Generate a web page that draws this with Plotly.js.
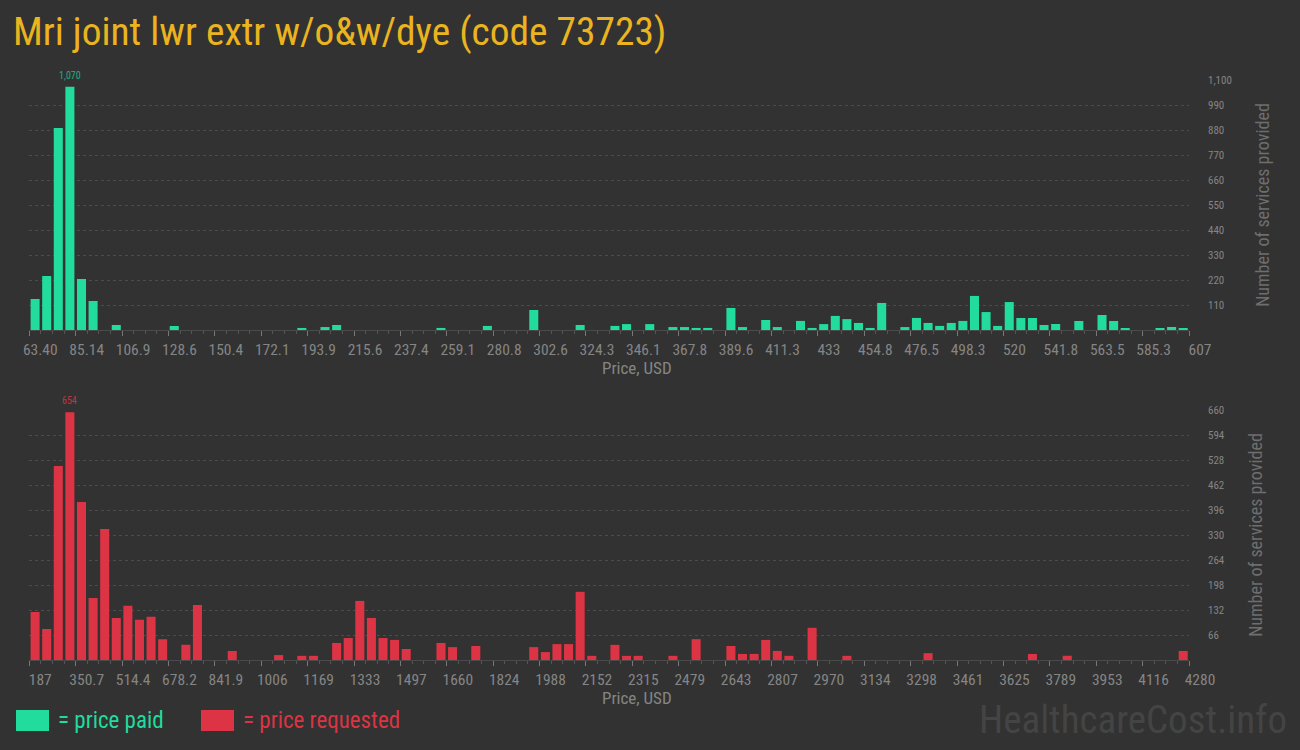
<!DOCTYPE html>
<html>
<head>
<meta charset="utf-8">
<script src="https://cdn.plot.ly/plotly-3.0.1.min.js"></script>
<style>
  html, body { margin: 0; padding: 0; background: #323232; }
  #chart { width: 1300px; height: 750px; }
</style>
</head>
<body>
<div id="chart"></div>
<script>
// ---- data ----
const chartTitle = "Mri joint lwr extr w/o&w/dye (code 73723)";

const paidMin = 63.40;
const paidMax = 607;
const paidTickLabels = ["63.40","85.14","106.9","128.6","150.4","172.1","193.9","215.6","237.4","259.1","280.8","302.6","324.3","346.1","367.8","389.6","411.3","433","454.8","476.5","498.3","520","541.8","563.5","585.3","607"];
const paidCounts = [
  136,238,889,1070,224,128,0,22,0,0,
  0,0,18,0,0,0,0,0,0,0,
  0,0,0,9,0,13,22,0,0,0,
  0,0,0,0,0,9,0,0,0,18,
  0,0,0,88,0,0,0,22,0,0,
  18,26,0,26,0,13,13,9,9,0,
  97,13,0,44,13,0,40,9,26,62,
  48,31,9,119,0,13,53,31,18,31,
  40,150,79,18,123,53,53,22,26,0,
  40,0,66,40,9,0,0,9,13,9
];
const paidYTicks = [110,220,330,440,550,660,770,880,990,1100];

const reqMin = 187;
const reqMax = 4280;
const reqTickLabels = ["187","350.7","514.4","678.2","841.9","1006","1169","1333","1497","1660","1824","1988","2152","2315","2479","2643","2807","2970","3134","3298","3461","3625","3789","3953","4116","4280"];
const reqCounts = [
  127,82,512,654,417,164,346,111,143,106,
  114,55,0,40,145,0,0,24,0,0,
  0,13,0,11,11,0,45,58,156,111,
  58,53,29,0,0,45,34,0,37,0,
  0,0,0,34,21,42,42,180,11,0,
  40,11,11,0,0,11,0,55,0,0,
  37,16,16,53,24,11,0,85,0,0,
  11,0,0,0,0,0,0,18,0,0,
  0,0,0,0,0,0,16,0,0,11,
  0,0,0,0,0,0,0,0,0,24
];
const reqYTicks = [66,132,198,264,330,396,462,528,594,660];

const legendLabels = ["= price paid", "= price requested"];
const yTitle = "Number of services provided";
const xTitle = "Price, USD";
const watermark = "HealthcareCost.info";

// ---- styles ----
const BG = "#323232";
const GREEN = "#21DC9C";
const RED = "#DC3444";
const GOLD = "#EBB41F";
const COND = "'Roboto Condensed', 'Liberation Sans Narrow', 'Arial Narrow', 'DejaVu Sans Condensed', sans-serif";
const NBINS = paidCounts.length;

function centers(lo, hi, n) {
  const w = (hi - lo) / n;
  const out = [];
  for (let i = 0; i < n; i++) out.push(lo + (i + 0.5) * w);
  return out;
}
function tickPositions(lo, hi, labels) {
  const step = (hi - lo) / (labels.length - 1);
  return labels.map((_, k) => lo + k * step);
}
function maxIndex(arr) {
  let m = 0;
  for (let i = 1; i < arr.length; i++) if (arr[i] > arr[m]) m = i;
  return m;
}

const paidX = centers(paidMin, paidMax, NBINS);
const reqX = centers(reqMin, reqMax, NBINS);

const traces = [
  { type: "bar", x: paidX, y: paidCounts, xaxis: "x", yaxis: "y",
    marker: { color: GREEN }, hoverinfo: "x+y", showlegend: false },
  { type: "bar", x: reqX, y: reqCounts, xaxis: "x2", yaxis: "y2",
    marker: { color: RED }, hoverinfo: "x+y", showlegend: false }
];

const xDomain = [29.3 / 1300, 1189 / 1300];

function xAxis(lo, hi, labels) {
  const w = (hi - lo) / NBINS;
  return {
    domain: xDomain,
    range: [lo, hi],
    tickmode: "array",
    tickvals: tickPositions(lo, hi, labels),
    ticktext: labels,
    ticks: "outside",
    ticklen: 5,
    tickcolor: "#777",
    tickwidth: 1,
    ticklabelshift: 11,
    minor: { tick0: lo, dtick: w, ticks: "outside", ticklen: 3, tickcolor: "#555", showgrid: false },
    showgrid: false,
    zeroline: false,
    showline: true,
    linecolor: "#4a4a4a",
    linewidth: 1,
    tickfont: { family: COND, size: 15.5, color: "#858585" },
    fixedrange: true
  };
}
function yAxis(max, vals, domain) {
  return {
    domain: domain,
    range: [0, max],
    side: "right",
    tickmode: "array",
    tickvals: vals,
    tickformat: ",d",
    ticks: "",
    ticklabelstandoff: 18,
    showgrid: true,
    gridcolor: "#4c4c4c",
    griddash: "3px,3px",
    gridwidth: 1,
    zeroline: false,
    showline: false,
    tickfont: { family: COND, size: 11, color: "#858585" },
    title: { text: yTitle, font: { family: COND, size: 18, color: "#6e6e6e" }, standoff: 25 },
    fixedrange: true
  };
}

const pi = maxIndex(paidCounts);
const ri = maxIndex(reqCounts);

const layout = {
  width: 1300, height: 750,
  paper_bgcolor: BG, plot_bgcolor: BG,
  margin: { l: 0, r: 0, t: 0, b: 0, autoexpand: false },
  bargap: 0.22,
  separators: ".,",
  title: { text: chartTitle, xref: "container", yref: "container", x: 13 / 1300, xanchor: "left",
           y: 1 - 31 / 750, yanchor: "middle", font: { family: COND, size: 39.4, color: GOLD } },
  xaxis: xAxis(paidMin, paidMax, paidTickLabels),
  yaxis: yAxis(1100, paidYTicks, [1 - 330 / 750, 1 - 80 / 750]),
  xaxis2: Object.assign(xAxis(reqMin, reqMax, reqTickLabels), { anchor: "y2" }),
  yaxis2: Object.assign(yAxis(660, reqYTicks, [1 - 660 / 750, 1 - 410 / 750]), { anchor: "x2" }),
  annotations: [
    { xref: "x", yref: "y", x: paidX[pi], y: paidCounts[pi], text: paidCounts[pi].toLocaleString("en-US"),
      showarrow: false, yanchor: "bottom", yshift: 4, font: { family: COND, size: 10, color: "#1EAF80" } },
    { xref: "x2", yref: "y2", x: reqX[ri], y: reqCounts[ri], text: String(reqCounts[ri]),
      showarrow: false, yanchor: "bottom", yshift: 4, font: { family: COND, size: 10, color: "#C23342" } },
    { xref: "paper", yref: "paper", x: 637 / 1300, y: 1 - 368 / 750, xanchor: "center", yanchor: "middle",
      text: xTitle, showarrow: false, font: { family: COND, size: 17, color: "#858585" } },
    { xref: "paper", yref: "paper", x: 637 / 1300, y: 1 - 698 / 750, xanchor: "center", yanchor: "middle",
      text: xTitle, showarrow: false, font: { family: COND, size: 17, color: "#858585" } },
    { xref: "paper", yref: "paper", x: 56 / 1300, y: 1 - 720 / 750, xanchor: "left", yanchor: "middle",
      text: legendLabels[0], showarrow: false, font: { family: COND, size: 23, color: GREEN } },
    { xref: "paper", yref: "paper", x: 241 / 1300, y: 1 - 720 / 750, xanchor: "left", yanchor: "middle",
      text: legendLabels[1], showarrow: false, font: { family: COND, size: 23, color: RED } },
    { xref: "paper", yref: "paper", x: 1289 / 1300, y: 1 - 720 / 750, xanchor: "right", yanchor: "middle",
      text: watermark, showarrow: false, font: { family: COND, size: 39, color: "#444444" } }
  ],
  shapes: [
    { type: "rect", xref: "paper", yref: "paper", x0: 16 / 1300, x1: 49 / 1300, y0: 1 - 731 / 750, y1: 1 - 710 / 750,
      fillcolor: GREEN, line: { width: 0 } },
    { type: "rect", xref: "paper", yref: "paper", x0: 201 / 1300, x1: 234 / 1300, y0: 1 - 731 / 750, y1: 1 - 710 / 750,
      fillcolor: RED, line: { width: 0 } }
  ]
};

Plotly.newPlot("chart", traces, layout, { displayModeBar: false, staticPlot: true });
</script>
</body>
</html>
